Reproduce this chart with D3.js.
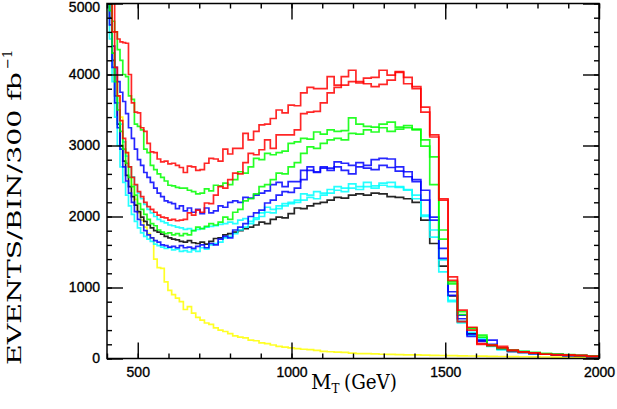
<!DOCTYPE html>
<html><head><meta charset="utf-8">
<script src="https://cdn.jsdelivr.net/npm/d3@7"></script>
<style>body{margin:0;background:#fff}svg{display:block}</style>
</head><body>
<svg id="c" width="617" height="409"></svg>
<script>
// ---- axis extents and ticks ----
const xDomain = [400, 2000];
const yDomain = [0, 5000];
const nBins = 80; // logarithmically spaced bins from 400 to 2000 GeV
const xMajorTicks = [500, 1000, 1500, 2000];
const xMinorTicks = d3.range(400, 2001, 100);
const yMajorTicks = [0, 1000, 2000, 3000, 4000, 5000];
const yMinorTicks = d3.range(0, 5001, 200);

// ---- series values (events per bin) ----
const red1 = [6500,5800,5200,4600,4500,4460,4450,4440,4000,3600, 3470,3460,3250,3200,3030,2910,2900,2810,2770,2780,
  2740,2750,2720,2690,2620,2710,2700,2650,2660,2750, 2820,2810,2780,2950,2880,2960,2960,3170,3080,3200,
  3290,3300,3380,3500,3460,3570,3560,3740,3820,3800, 3800,3970,3850,3970,4060,3880,3950,3960,4060,3990,
  4040,3960,3830,3540,3150,2250,1150,680,400,200, 180,170,110,95,80,60,55,50,45,30];
const red2 = [6000,5200,4600,4100,3700,3350,3100,2900,2700,2550, 2450,2350,2280,2200,2140,2100,2060,2020,1990,1980,
  1950,1960,1940,1950,1960,2050,2020,2090,2060,2190, 2180,2300,2420,2400,2520,2610,2600,2760,2890,2870,
  2940,3080,2960,3150,3150,3150,3220,3450,3470,3480, 3600,3740,3820,3850,3900,3900,3870,3830,3860,3920,
  4030,3870,3800,3470,3120,2230,1100,520,440,210, 190,150,120,90,75,60,50,45,40,30];
const green1 = [5600,5000,4750,4600,4350,4200,4000,3970,3700,3650, 3300,3270,3220,2950,2900,2720,2660,2600,2550,2500,
  2440,2430,2410,2400,2400,2370,2350,2320,2330,2390, 2360,2440,2430,2470,2450,2520,2630,2610,2700,2820,
  2800,2890,2870,2900,2920,3030,3050,3100,3090,3190, 3160,3220,3200,3210,3390,3300,3270,3260,3300,3330,
  3260,3280,3220,3080,2840,1810,1080,660,430,330, 190,150,120,100,85,70,60,55,45,35];
const green2 = [5600,4900,4300,3900,3500,3200,2950,2750,2550,2420, 2300,2180,2100,2030,1960,1900,1870,1810,1780,1760,
  1770,1740,1760,1730,1760,1740,1800,1850,1830,1860, 1900,1880,1920,1990,1960,2060,2100,2220,2250,2320,
  2420,2450,2520,2610,2600,2700,2760,2890,2980,2960, 3030,3080,3100,3080,3170,3160,3220,3190,3250,3200,
  3230,3250,3230,2990,2450,1680,1050,620,420,300, 180,140,110,90,80,70,60,50,40,30];
const blue1 = [6000,5000,4400,4100,3900,3750,3620,3450,3250,3100, 2950,2800,2720,2620,2550,2480,2400,2330,2280,2220,
  2200,2180,2110,2150,2080,2120,2060,2100,2040,2120, 2050,2080,2150,2130,2200,2220,2200,2270,2260,2300,
  2330,2360,2450,2480,2420,2490,2490,2650,2700,2620, 2680,2650,2770,2750,2720,2760,2720,2800,2820,2810,
  2700,2630,2520,2370,1990,1550,940,610,310,260, 260,150,110,95,80,65,55,45,40,30];
const blue2 = [5500,4700,4100,3600,3250,2950,2700,2500,2330,2200, 2070,1960,1880,1800,1740,1700,1660,1640,1600,1590,
  1570,1580,1560,1590,1560,1570,1550,1580,1600,1560, 1620,1600,1680,1720,1700,1810,1850,1900,2000,2050,
  2090,2190,2230,2300,2350,2340,2400,2520,2650,2630, 2700,2680,2700,2650,2600,2700,2680,2660,2720,2690,
  2640,2560,2490,2230,1950,1410,890,560,340,240, 200,140,100,85,70,60,50,40,35,25];
const cyan1 = [5800,4900,4300,3900,3600,3300,3050,2850,2700,2560, 2440,2330,2250,2170,2100,2050,2000,1960,1930,1910,
  1880,1870,1850,1840,1820,1830,1800,1820,1830,1850, 1860,1870,1890,1900,1920,1900,1950,1970,1930,1980,
  2050,2130,2100,2150,2180,2200,2230,2320,2300,2350, 2330,2380,2420,2400,2460,2420,2480,2430,2470,2480,
  2420,2380,2250,2000,1810,1390,820,520,370,290, 190,130,120,100,80,65,55,45,40,30];
const cyan2 = [5300,4500,3900,3400,3000,2700,2480,2300,2150,2030, 1930,1840,1770,1720,1680,1650,1610,1590,1570,1550,
  1560,1530,1540,1510,1520,1500,1530,1510,1560,1540, 1600,1620,1640,1700,1720,1760,1810,1850,1900,1960,
  2000,2060,2050,2110,2150,2180,2200,2230,2270,2250, 2300,2330,2370,2350,2400,2380,2420,2400,2440,2420,
  2410,2370,2300,2020,1710,1220,800,500,330,270, 170,120,100,85,70,60,50,40,35,25];
const black = [5800,4800,4200,3700,3300,3000,2780,2580,2420,2280, 2160,2070,1990,1930,1880,1840,1800,1780,1750,1720,
  1700,1680,1670,1650,1640,1660,1630,1620,1640,1610, 1650,1690,1700,1740,1760,1780,1800,1830,1850,1880,
  1920,1900,1960,1990,1980,2040,2120,2110,2150,2180, 2200,2230,2270,2260,2300,2320,2300,2330,2320,2280,
  2270,2250,2200,1950,1620,1300,880,520,350,250, 180,130,100,85,70,60,55,50,35,30];
const yellow = [6000,5200,4400,4000,3700,3400,3050,2900,2700,2450, 2240,2050,1950,1850,1760,1700,1400,1280,1270,1080,
  960,900,850,800,690,730,640,580,540,500, 480,430,400,380,350,320,300,290,260,250,
  220,210,190,170,160,150,140,130,125,115, 100,95,90,85,75,70,68,65,60,58,
  55,52,50,48,45,42,40,38,35,33, 30,28,26,25,23,21,20,18,17,16];

const seriesList = [
  {values: yellow, color: "#ffff00"},
  {values: black,  color: "#000000"},
  {values: cyan2,  color: "#00ffff"},
  {values: cyan1,  color: "#00ffff"},
  {values: blue2,  color: "#0000ff"},
  {values: blue1,  color: "#0000ff"},
  {values: green2, color: "#00ff00"},
  {values: green1, color: "#00ff00"},
  {values: red2,   color: "#ff0000"},
  {values: red1,   color: "#ff0000"}
];

// ---- layout ----
const L = 107, R = 599, T = 3.5, B = 358.5;
const svg = d3.select("#c");
const x = d3.scaleLinear().domain(xDomain).range([L, R]);
const y = d3.scaleLinear().domain(yDomain).range([B, T]);
const edges = d3.range(nBins + 1).map(i => xDomain[0] * Math.pow(xDomain[1] / xDomain[0], i / nBins));

svg.append("defs").append("clipPath").attr("id", "clip")
  .append("rect").attr("x", L).attr("y", T).attr("width", R - L).attr("height", B - T);

const line = d3.line().x(d => x(d[0])).y(d => y(d[1])).curve(d3.curveStepAfter);
const plot = svg.append("g").attr("clip-path", "url(#clip)");
seriesList.forEach(s => {
  const pts = s.values.map((v, i) => [edges[i], v]);
  pts.push([edges[nBins], s.values[nBins - 1]]);
  plot.append("path").attr("d", line(pts))
    .attr("fill", "none").attr("stroke", s.color)
    .attr("stroke-width", 1.7).attr("stroke-opacity", 0.85);
});

// ---- axes (ticks on all four sides, pointing inward) ----
const tickFont = "'Liberation Sans', Arial, sans-serif";
function styleAxis(g) {
  g.select(".domain").remove();
  g.selectAll("line").attr("stroke", "#000").attr("stroke-width", 1.4);
  g.selectAll("text").attr("font-family", tickFont).attr("font-size", 14).attr("fill", "#000")
    .attr("stroke", "#000").attr("stroke-width", 0.35);
}
svg.append("g").attr("transform", `translate(0,${B})`)
  .call(d3.axisBottom(x).tickValues(xMinorTicks).tickSize(-5).tickFormat("")).call(styleAxis);
svg.append("g").attr("transform", `translate(0,${B})`)
  .call(d3.axisBottom(x).tickValues(xMajorTicks).tickSize(-16).tickPadding(9).tickFormat(d3.format("d"))).call(styleAxis);
svg.append("g").attr("transform", `translate(0,${T})`)
  .call(d3.axisTop(x).tickValues(xMinorTicks).tickSize(-5).tickFormat("")).call(styleAxis);
svg.append("g").attr("transform", `translate(0,${T})`)
  .call(d3.axisTop(x).tickValues(xMajorTicks).tickSize(-16).tickFormat("")).call(styleAxis);
svg.append("g").attr("transform", `translate(${L},0)`)
  .call(d3.axisLeft(y).tickValues(yMinorTicks).tickSize(-5).tickFormat("")).call(styleAxis);
const yAx = svg.append("g").attr("transform", `translate(${L},0)`)
  .call(d3.axisLeft(y).tickValues(yMajorTicks).tickSize(-16).tickPadding(7).tickFormat(d3.format("d"))).call(styleAxis);
yAx.selectAll(".tick text").filter(d => d === yDomain[1]).attr("dy", "0.6em");
svg.append("g").attr("transform", `translate(${R},0)`)
  .call(d3.axisRight(y).tickValues(yMinorTicks).tickSize(-5).tickFormat("")).call(styleAxis);
svg.append("g").attr("transform", `translate(${R},0)`)
  .call(d3.axisRight(y).tickValues(yMajorTicks).tickSize(-16).tickFormat("")).call(styleAxis);

svg.append("rect").attr("x", L).attr("y", T).attr("width", R - L).attr("height", B - T)
  .attr("fill", "none").attr("stroke", "#000").attr("stroke-width", 1.5);

// ---- axis titles ----
const serif = "'DejaVu Serif', 'Liberation Serif', serif";
const xt = svg.append("text").attr("x", 311).attr("y", 389)
  .attr("font-family", serif).attr("font-size", 20).attr("fill", "#000");
xt.append("tspan").text("M");
xt.append("tspan").attr("font-size", 12).attr("dy", 4).text("T");
svg.append("text").attr("x", 344).attr("y", 389)
  .attr("font-family", serif).attr("font-size", 20).attr("fill", "#000")
  .attr("textLength", 53).attr("lengthAdjust", "spacingAndGlyphs").text("(GeV)");

svg.append("text").attr("transform", "translate(21,365) rotate(-90)")
  .attr("font-family", serif).attr("font-size", 19).attr("fill", "#000")
  .attr("textLength", 293).attr("lengthAdjust", "spacingAndGlyphs")
  .text("EVENTS/BIN/300 fb");
svg.append("text").attr("transform", "translate(12,69) rotate(-90)")
  .attr("font-family", serif).attr("font-size", 13).attr("fill", "#000")
  .text("\u22121");
</script>
</body></html>
